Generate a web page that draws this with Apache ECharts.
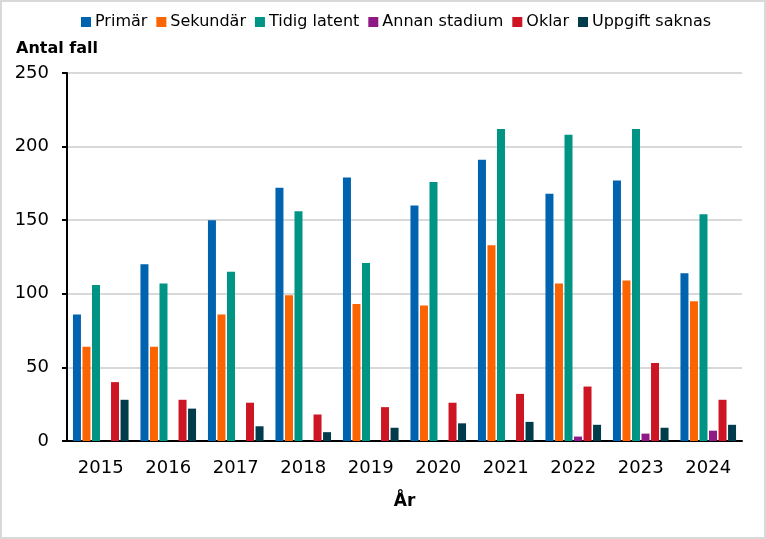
<!DOCTYPE html>
<html lang="sv">
<head>
<meta charset="utf-8" />
<title>Antal fall per år</title>
<style>
  html, body { margin: 0; padding: 0; background: #fff; }
  #main { width: 766px; height: 539px; box-sizing: border-box; border: 2px solid #d9d9d9; }
</style>
</head>
<body>
<div id="main"></div>
<script src="https://cdn.jsdelivr.net/npm/echarts@6/dist/echarts.min.js"></script>
<script>
  // data
  var years = ['2015', '2016', '2017', '2018', '2019', '2020', '2021', '2022', '2023', '2024'];
  var primar = [86, 120, 150, 172, 179, 160, 191, 168, 177, 114];
  var sekundar = [64, 64, 86, 99, 93, 92, 133, 107, 109, 95];
  var tidigLatent = [106, 107, 115, 156, 121, 176, 212, 208, 212, 154];
  var annanStadium = [null, null, null, null, null, null, null, 3, 5, 7];
  var oklar = [40, 28, 26, 18, 23, 26, 32, 37, 53, 28];
  var uppgiftSaknas = [28, 22, 10, 6, 9, 12, 13, 11, 9, 11];

  var font = '"DejaVu Sans", Verdana, sans-serif';

  function bar(name, data, color) {
    return {
      name: name,
      type: 'bar',
      data: data,
      barWidth: 8,
      barGap: '19%',
      itemStyle: { color: color }
    };
  }

  var myChart = echarts.init(document.getElementById('main'));
  var option = {
    animation: false,
    textStyle: { fontFamily: font },
    legend: {
      top: 7,
      left: 74,
      itemWidth: 10,
      itemHeight: 10,
      itemGap: 9,
      icon: 'rect',
      textStyle: { fontSize: 16, color: '#000', fontFamily: font, padding: [0, 0, 0, -1] },
      data: ['Primär', 'Sekundär', 'Tidig latent', 'Annan stadium', 'Oklar', 'Uppgift saknas']
    },
    grid: { left: 65, right: 22, top: 71, bottom: 96 },
    xAxis: {
      type: 'category',
      data: years,
      name: 'År',
      nameLocation: 'middle',
      nameGap: 52,
      nameTextStyle: { fontSize: 17, fontWeight: 'bold', color: '#000', fontFamily: font },
      axisLine: { lineStyle: { color: '#000', width: 2 } },
      axisTick: { show: false },
      axisLabel: { fontSize: 18, color: '#000', margin: 18, fontFamily: font }
    },
    yAxis: {
      type: 'value',
      min: 0,
      max: 250,
      interval: 50,
      name: 'Antal fall',
      nameLocation: 'end',
      nameGap: 16,
      nameTextStyle: { fontSize: 16, fontWeight: 'bold', color: '#000', align: 'left', padding: [0, 0, 0, -51], fontFamily: font },
      axisLine: { show: true, lineStyle: { color: '#000', width: 2 } },
      axisTick: { show: true, length: 5, lineStyle: { color: '#000', width: 2 } },
      axisLabel: { fontSize: 18, color: '#000', margin: 18, fontFamily: font },
      splitLine: { lineStyle: { color: '#d9d9d9', width: 2 } }
    },
    series: [
      bar('Primär', primar, '#0063af'),
      bar('Sekundär', sekundar, '#fb6400'),
      bar('Tidig latent', tidigLatent, '#009485'),
      bar('Annan stadium', annanStadium, '#8f1a86'),
      bar('Oklar', oklar, '#cd1524'),
      bar('Uppgift saknas', uppgiftSaknas, '#003c4b')
    ]
  };
  myChart.setOption(option);
</script>
</body>
</html>
